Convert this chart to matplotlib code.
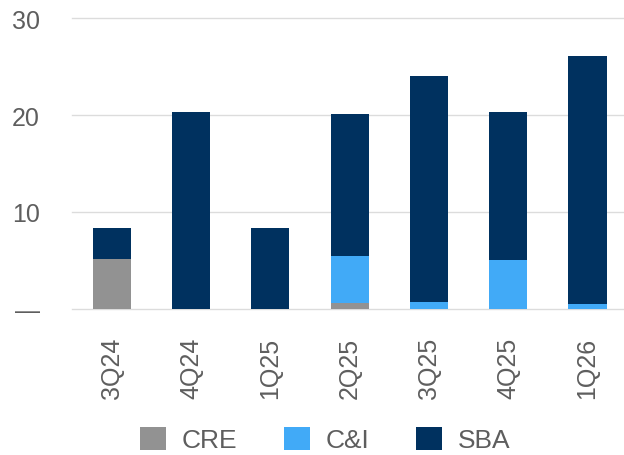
import matplotlib
matplotlib.use("Agg")
import matplotlib.pyplot as plt
import numpy as np

quarters = ["3Q24", "4Q24", "1Q25", "2Q25", "3Q25", "4Q25", "1Q26"]
cre = [5.2, 0.0, 0.0, 0.6, 0.0, 0.0, 0.0]
ci = [0.0, 0.0, 0.0, 4.85, 0.7, 5.0, 0.5]
sba = [3.1, 20.3, 8.3, 14.65, 23.3, 15.3, 25.6]

y_ticks = [0, 10, 20, 30]
y_tick_labels = ["\u2014", "10", "20", "30"]

series = [("CRE", cre, "#929292"), ("C&I", ci, "#41aaf7"), ("SBA", sba, "#00315f")]

plt.rcParams["font.family"] = ["Liberation Sans", "DejaVu Sans"]
text_color = "#5e5e5e"

fig = plt.figure(figsize=(6.24, 4.56), dpi=100)
ax = fig.add_axes([0.1154, 0.3202, 0.8846, 0.6381])

x = np.arange(len(quarters))
bottom = np.zeros(len(quarters))
for name, vals, color in series:
    vals = np.array(vals)
    ax.bar(x, vals, width=0.48, bottom=bottom, color=color, label=name, zorder=3)
    bottom += vals

ax.set_xlim(-0.5, 6.46)
ax.set_ylim(0, 30)
ax.set_yticks(y_ticks)
ax.set_yticklabels(y_tick_labels)
ax.set_xticks(x)
ax.set_xticklabels(quarters, rotation=90)
ax.tick_params(axis="both", length=0, labelsize=18, labelcolor=text_color)
ax.tick_params(axis="y", pad=23)
ax.tick_params(axis="x", pad=20)

ax.grid(axis="y", color="#dcdcdc", linewidth=1.0, zorder=0, clip_on=False)
for s in ax.spines.values():
    s.set_visible(False)

handles, labels = ax.get_legend_handles_labels()
leg = fig.legend(handles, labels, loc="center", bbox_to_anchor=(0.521, 0.034),
                 ncol=3, frameon=False, fontsize=19, handlelength=1.0,
                 handleheight=0.95, handletextpad=0.6, columnspacing=1.75)
for t in leg.get_texts():
    t.set_color(text_color)

fig.savefig("out.png", dpi=100)
